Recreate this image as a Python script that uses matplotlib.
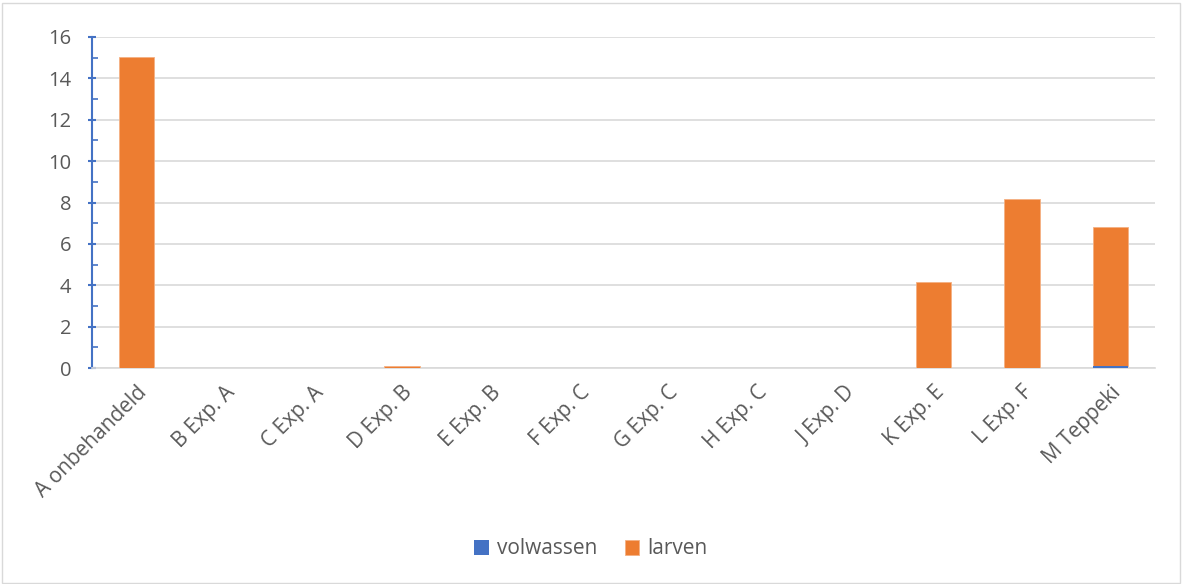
import matplotlib
matplotlib.use("Agg")
import matplotlib.pyplot as plt
from matplotlib.patches import Rectangle
from matplotlib.ticker import MultipleLocator

categories = ["A onbehandeld", "B Exp. A", "C Exp. A", "D Exp. B", "E Exp. B", "F Exp. C",
              "G Exp. C", "H Exp. C", "J Exp. D", "K Exp. E", "L Exp. F", "M Teppeki"]
volwassen = [0, 0, 0, 0, 0, 0, 0, 0, 0, 0, 0, 0.12]
larven = [15.05, 0, 0, 0.1, 0, 0, 0, 0, 0, 4.18, 8.18, 6.68]

plt.rcParams['font.family'] = ['Open Sans', 'DejaVu Sans']
fig = plt.figure(figsize=(11.82, 5.84), dpi=100)
ax = fig.add_axes([92/1182, 1-368/584, (1155-92)/1182, (368-37)/584])

x = list(range(len(categories)))
ax.bar(x, larven, width=0.4, bottom=volwassen, color="#ED7D31", label="larven",
       edgecolor="#F4B183", linewidth=0.6, zorder=3)
ax.bar(x, volwassen, width=0.4, color="#4472C4", label="volwassen", zorder=4)

ax.set_xlim(-0.5, len(categories) - 0.5)
ax.set_ylim(0, 16)
ax.yaxis.set_major_locator(MultipleLocator(2))
ax.yaxis.set_minor_locator(MultipleLocator(1))
ax.grid(axis='y', which='major', color="#D9D9D9", linewidth=1.2, zorder=0)
for s in ["top", "right"]:
    ax.spines[s].set_visible(False)
ax.spines["bottom"].set_color("#D9D9D9")
ax.spines["bottom"].set_linewidth(1.2)
ax.spines["left"].set_color("#4472C4")
ax.spines["left"].set_linewidth(1.5)
ax.tick_params(axis='y', which='major', direction='inout', length=6, width=1.5,
               color="#4472C4", labelsize=14.5, labelcolor="#595959", pad=12)
ax.tick_params(axis='y', which='minor', direction='in', length=4, width=1.2, color="#4472C4")
ax.set_xticks(x)
ax.set_xticklabels(categories, rotation=45, ha='right', rotation_mode='anchor',
                   fontsize=15, color="#595959")
ax.tick_params(axis='x', length=0, pad=10)

handles, labels = ax.get_legend_handles_labels()
order = [labels.index("volwassen"), labels.index("larven")]
leg = fig.legend([handles[i] for i in order], [labels[i] for i in order],
                 loc='center', bbox_to_anchor=(0.5, 1-549/584), ncol=2, frameon=False,
                 fontsize=15, labelcolor="#595959", handlelength=0.7, handleheight=0.7,
                 columnspacing=1.3, handletextpad=0.4)

fig.patches.append(Rectangle((0.002, 0.002), 0.996, 0.993, transform=fig.transFigure,
                             fill=False, edgecolor="#D9D9D9", linewidth=1))
fig.savefig("out.png", dpi=100)
